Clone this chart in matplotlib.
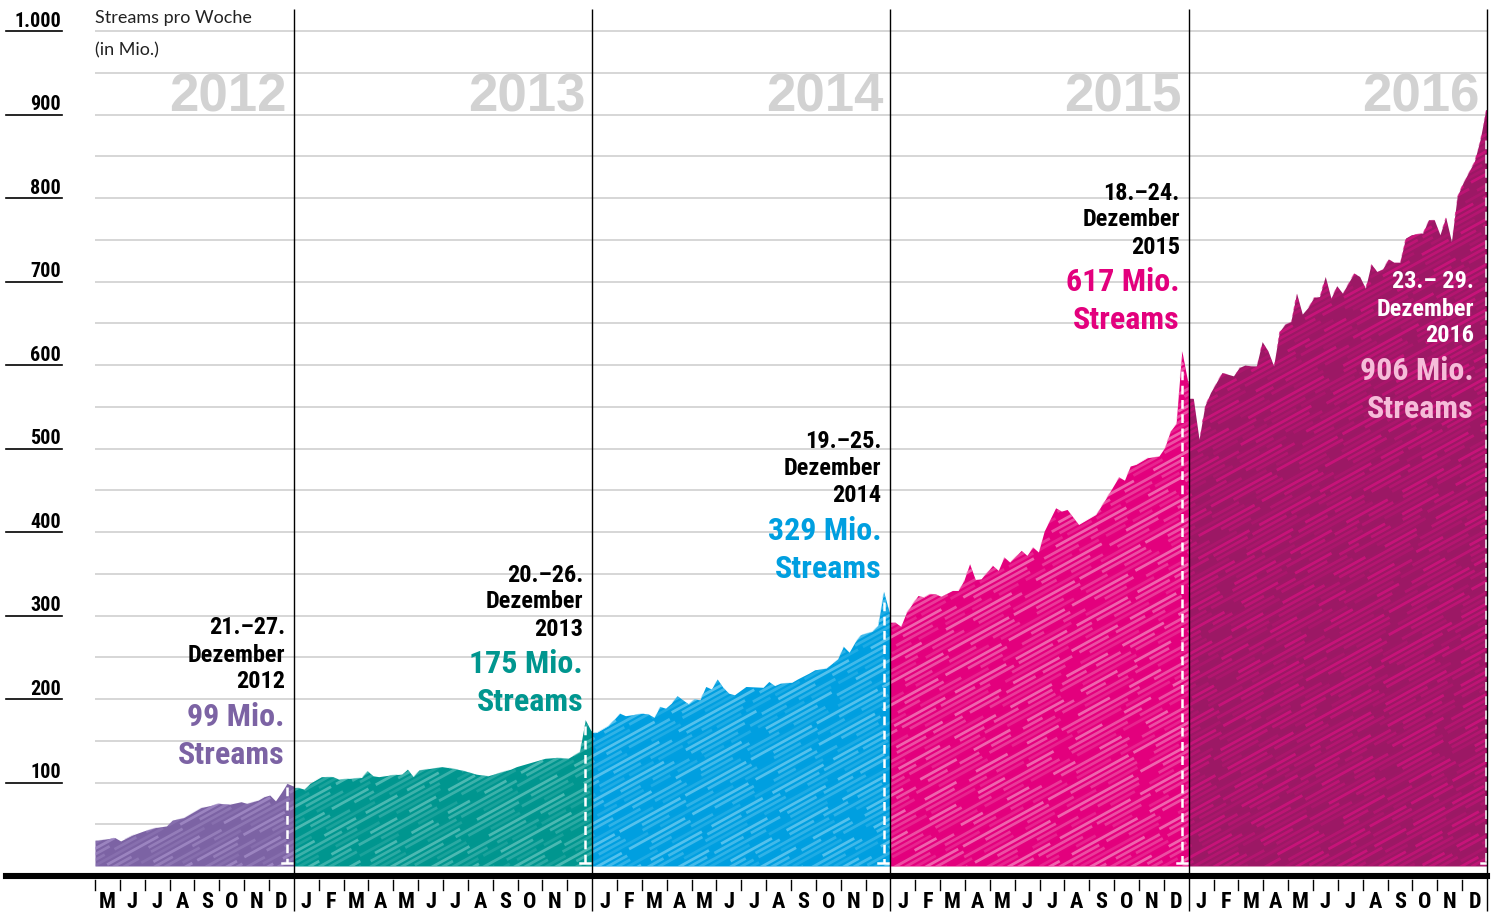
import numpy as np
import matplotlib.pyplot as plt
from matplotlib.collections import LineCollection
from matplotlib.colors import to_rgba
from matplotlib.lines import Line2D

# Weekly streams in Germany (Mio.): week of year -> value
weeks_2012 = [18, 20, 21, 22, 24, 26, 28, 30, 31, 33, 35, 36, 38, 39, 41, 43, 44, 46, 47, 48, 49, 50, 51, 52]
vals_2012 = [31, 33, 34, 30, 37, 42, 46, 48, 55, 58, 66, 70, 73, 75, 74, 77, 75, 79, 83, 85, 78, 88, 99, 96]

weeks_2013 = [1, 2, 3, 5, 7, 8, 10, 12, 13, 14, 15, 17, 19, 20, 21, 22, 24, 26, 28, 30, 32, 34, 36,
              38, 39, 41, 42, 44, 46, 48, 50, 51, 52]
vals_2013 = [94, 92, 99, 107, 107, 104, 105, 106, 114, 108, 107, 109, 110, 116, 107, 115, 117, 119, 117,
             114, 110, 108, 112, 116, 119, 123, 125, 129, 130, 129, 137, 175, 162]

weeks_2014 = [1, 3, 5, 6, 9, 10, 11, 12, 13, 14, 15, 17, 18, 19, 20, 21, 22, 23, 24, 25, 27, 30, 31, 32,
              33, 35, 36, 38, 39, 41, 43, 44, 45, 46, 47, 49, 50, 51, 52]
vals_2014 = [160, 168, 183, 180, 183, 182, 178, 191, 189, 195, 204, 194, 200, 199, 215, 212, 224, 214,
             207, 205, 215, 214, 221, 216, 219, 220, 224, 231, 235, 237, 248, 263, 256, 268, 277, 281,
             288, 329, 304]

weeks_2015 = [1, 2, 3, 5, 6, 7, 8, 9, 11, 12, 13, 14, 15, 16, 18, 19, 20, 21, 23, 24, 25, 26, 27, 29,
              30, 31, 33, 34, 36, 38, 40, 41, 42, 43, 45, 47, 48, 49, 50, 51, 52]
vals_2015 = [292, 287, 304, 324, 322, 326, 326, 323, 330, 330, 342, 362, 343, 344, 360, 354, 370, 364,
             378, 372, 382, 376, 401, 429, 425, 427, 409, 413, 421, 443, 466, 462, 479, 481, 489, 491,
             501, 521, 530, 617, 581]

weeks_2016 = [1, 2, 3, 4, 6, 8, 9, 10, 11, 12, 13, 14, 15, 16, 17, 18, 19, 20, 21, 22, 23, 24, 25, 26,
              27, 29, 30, 31, 32, 33, 34, 35, 36, 37, 38, 39, 41, 42, 43, 44, 45, 46, 47, 48, 50, 51, 52]
vals_2016 = [560, 511, 551, 567, 591, 587, 597, 600, 599, 599, 628, 617, 599, 640, 649, 652, 686, 661,
             669, 681, 682, 706, 680, 695, 686, 710, 706, 692, 721, 712, 715, 727, 723, 723, 752, 756,
             758, 774, 774, 756, 777, 748, 802, 818, 844, 870, 906]

years = [2012, 2013, 2014, 2015, 2016]
weeks = [weeks_2012, weeks_2013, weeks_2014, weeks_2015, weeks_2016]
values = [vals_2012, vals_2013, vals_2014, vals_2015, vals_2016]

# record week of each year
peak_weeks = [51, 51, 51, 51, 52]
peak_dates = ["21.–27.", "20.–26.", "19.–25.", "18.–24.", "23.– 29."]
peak_mio = [99, 175, 329, 617, 906]

fill_colors = ["#7c63a4", "#00968f", "#009fe0", "#e3007d", "#9c1865"]
streak_colors = ["#a993cc", "#6cc8c2", "#78d0f3", "#f590c3", "#da1282"]
label_colors = ["#7c63a4", "#00968f", "#009fe0", "#e3007d", "#f6bcd9"]

ytick_vals = [100, 200, 300, 400, 500, 600, 700, 800, 900, 1000]
ytick_labels = ["100", "200", "300", "400", "500", "600", "700", "800", "900", "1.000"]
month_letters = ["J", "F", "M", "A", "M", "J", "J", "A", "S", "O", "N", "D"]

# ---- layout (pixels of the 1494x920 canvas) ----
W, H = 1494, 920
PX_LEFT, PX_RIGHT, PX_ZERO, PX_TOP = 95, 1487, 867, 10
PX_PER_MIO = 0.835
NARROW = ["Roboto Condensed", "DejaVu Sans"]
SANS = ["Liberation Sans", "DejaVu Sans"]
SMALL = ["Lato", "Liberation Sans", "DejaVu Sans"]


def fx(px):
    return px / W


def fy(py):
    return 1 - py / H


def val_at(py):
    return (PX_ZERO - py) / PX_PER_MIO


def week_x(year, w):
    return year + (w - 0.2) / 52


fig = plt.figure(figsize=(W / 100, H / 100), dpi=100)
ax = fig.add_axes([fx(PX_LEFT), fy(PX_ZERO), fx(PX_RIGHT) - fx(PX_LEFT), fy(PX_TOP) - fy(PX_ZERO)])
x_start = 2012 + 4 / 12
ax.set_xlim(x_start, 2017)
ax.set_ylim(0, val_at(PX_TOP))
ax.axis("off")

# grid every 50
for g in range(50, 1001, 50):
    ax.axhline(g, color="#d3d3d3", lw=1.3, zorder=1)

# left value labels with underline
for v, lab in zip(ytick_vals, ytick_labels):
    py = PX_ZERO - v * PX_PER_MIO
    fig.add_artist(Line2D([fx(6), fx(62)], [fy(py), fy(py)], color="black", lw=1.2))
    fig.text(fx(61), fy(py - 5), lab, ha="right", va="baseline", fontsize=14.5, fontweight="bold",
             family=NARROW, color="black")

fig.text(fx(95), fy(18), "Streams pro Woche", ha="left", va="center", fontsize=13, family=SMALL,
         color="#222222")
fig.text(fx(95), fy(50), "(in Mio.)", ha="left", va="center", fontsize=13, family=SMALL,
         color="#222222")

# areas with diagonal strokes
slope = 0.55 * (PX_RIGHT - PX_LEFT) / (PX_ZERO - PX_TOP)
for k, yr in enumerate(years):
    xs = [week_x(yr, w) for w in weeks[k]]
    ys = list(values[k])
    x0 = max(yr, x_start)
    xs = [x0] + xs + [yr + 1]
    ys = [ys[0]] + ys + [ys[-1]]
    area = ax.fill_between(xs, 0, ys, color=fill_colors[k], lw=0, zorder=2)

    segs, cols, styles = [], [], []
    for i in range(320):
        c = -0.95 + i * 0.0066
        segs.append([(0, c), (1, c + slope)])
        cols.append(to_rgba(streak_colors[k], 0.25 + 0.15 * (i % 4)))
        on = 8 + (i * 7) % 26
        off = 2 + (i * 11) % 9
        styles.append(((i * 5) % 30, (on, off)))
    lc = LineCollection(segs, colors=cols, linewidths=2.0, linestyles=styles,
                        transform=ax.transAxes, zorder=3)
    ax.add_collection(lc, autolim=False)
    lc.set_clip_path(area.get_paths()[0], ax.transData)

    # dashed marker at record week
    px = week_x(yr, peak_weeks[k])
    ax.plot([px, px], [peak_mio[k] * 0.96, 4], color="white", lw=1.8, ls=(0, (3.5, 2.2)), zorder=4)
    ax.plot([px - 0.017, px + 0.017], [4, 4], color="white", lw=1.8, zorder=4)

    # big year label
    bx = PX_LEFT + (yr + 1 - x_start) * (PX_RIGHT - PX_LEFT) / (2017 - x_start)
    fig.text(fx(bx - 7), fy(97), str(yr), ha="right", va="center", fontsize=38, fontweight="bold",
             family=SANS, color="#d2d2d2")

# annotation blocks (y in pixels of the date line)
ann_top = [628, 575, 442, 193, 282]
for k, yr in enumerate(years):
    bx = PX_LEFT + (yr + 1 - x_start) * (PX_RIGHT - PX_LEFT) / (2017 - x_start)
    rx = fx(bx - 9) if k < 4 else fx(bx - 13)
    dark = "black" if k < 4 else "white"
    t = ann_top[k]
    for off, s in zip([0, 27, 54], [peak_dates[k], "Dezember", str(yr)]):
        fig.text(rx, fy(t + off), s, ha="right", va="center", fontsize=17.5, fontweight="bold",
                 family=NARROW, color=dark, zorder=6)
    fig.text(rx, fy(t + 89), f"{peak_mio[k]} Mio.", ha="right", va="center", fontsize=23,
             fontweight="bold", family=NARROW, color=label_colors[k], zorder=6)
    fig.text(rx, fy(t + 127), "Streams", ha="right", va="center", fontsize=23,
             fontweight="bold", family=NARROW, color=label_colors[k], zorder=6)

# year separators
ax.vlines([2013, 2014, 2015, 2016, 2017], val_at(912), val_at(PX_TOP), color="black", lw=1.0,
          clip_on=False, zorder=5)

# thick base line
fig.add_artist(Line2D([fx(6), fx(PX_RIGHT)], [fy(877), fy(877)], color="black", lw=4.4))

# month ticks and letters
for yr in years:
    for m in range(12):
        if yr == 2012 and m < 4:
            continue
        mx = yr + m / 12
        if m > 0 or yr == 2012:
            ax.plot([mx, mx], [val_at(881), val_at(891)], color="black", lw=1.0, clip_on=False)
        ax.text(mx + 1 / 24, val_at(902), month_letters[m], ha="center", va="center", fontsize=16,
                fontweight="bold", family=NARROW, color="black", clip_on=False)

fig.savefig("out.png", dpi=100)
